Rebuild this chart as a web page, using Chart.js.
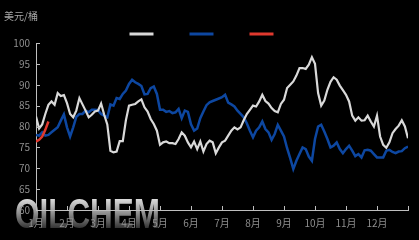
<!DOCTYPE html>
<html>
<head>
<meta charset="utf-8">
<script src="https://cdn.jsdelivr.net/npm/chart.js@4/dist/chart.umd.min.js"></script>
<style>
  html, body { margin: 0; padding: 0; background: #000; }
  #wrap { width: 419px; height: 240px; position: relative; }
</style>
</head>
<body>
<div id="wrap"><canvas id="oilChart"></canvas></div>
<script>
// units, axis labels
const unitLabel = '美元/桶';
const monthLabels = ['1月', '2月', '3月', '4月', '5月', '6月', '7月', '8月', '9月', '10月', '11月', '12月'];
const seriesNames = ['2023年', '2024年', '2025年'];
const yMin = 60, yMax = 100, yStep = 5;
const samplesPerMonth = 10; // one reading every tenth of a month

// Brent, USD/bbl
const brent2023 = [
  82.4, 79.5, 80.5, 83.0, 85.2, 86.0, 85.2, 88.0, 87.3, 87.5,
  85.6, 83.0, 82.2, 83.8, 86.8, 85.3, 83.8, 82.2, 82.8, 83.6,
  83.8, 85.5, 82.8, 80.5, 74.2, 73.8, 74.0, 76.5, 76.5, 81.5,
  85.0, 85.2, 85.4, 86.0, 86.5, 84.6, 83.6, 81.8, 80.6, 79.0,
  75.6, 76.2, 76.4, 76.0, 76.0, 75.8, 77.0, 78.6, 77.8, 76.2,
  75.0, 76.4, 74.6, 76.4, 74.0, 75.8, 76.6, 76.2, 73.6, 75.0,
  76.2, 76.6, 77.8, 79.0, 79.8, 79.3, 79.8, 81.5, 83.0, 84.0,
  85.0, 84.8, 86.0, 87.6, 86.1, 85.5, 84.4, 83.7, 83.4, 85.4,
  86.4, 89.2, 90.0, 90.8, 92.2, 94.0, 94.0, 93.8, 94.8, 96.6,
  95.0, 88.0, 85.0, 86.2, 88.8, 90.7, 91.8, 91.2, 89.8, 88.7,
  87.6, 86.0, 82.6, 81.4, 82.2, 81.4, 81.5, 82.6, 81.2, 80.0,
  82.6, 77.6, 75.6, 74.9, 76.2, 78.4, 79.4, 80.2, 81.5, 80.0,
  77.2
];
const brent2024 = [
  78.0, 77.8, 78.6, 77.8, 78.0, 78.6, 79.2, 79.8, 81.4, 82.9,
  79.8, 77.6, 79.8, 82.3, 83.0, 83.0, 83.8, 83.4, 84.0, 84.0,
  83.9, 83.0, 82.6, 82.2, 85.3, 85.0, 86.8, 86.6, 87.8, 88.6,
  90.2, 91.2, 90.6, 90.2, 89.7, 87.7, 87.8, 89.2, 89.6, 87.8,
  84.0, 84.0, 83.5, 83.7, 83.2, 83.4, 84.2, 82.0, 83.8, 83.5,
  80.5, 79.0, 79.5, 82.0, 83.6, 85.1, 85.8, 86.1, 86.4, 86.7,
  87.0, 87.6, 85.7, 85.3, 84.8, 83.8, 83.0, 82.2, 80.8, 79.0,
  77.4, 79.0, 79.8, 81.2, 79.4, 78.6, 76.8, 78.2, 80.4, 79.0,
  77.6, 74.8, 72.4, 69.8, 71.8, 73.4, 75.0, 74.6, 72.8, 71.8,
  77.0, 80.0, 80.4, 78.8, 77.0, 75.0, 75.4, 76.2, 74.6, 73.6,
  74.6, 75.4, 74.2, 72.9, 73.4, 72.6, 74.3, 74.4, 74.2, 73.4,
  72.6, 72.6, 72.6, 74.2, 74.4, 73.9, 73.6, 74.0, 74.1, 74.8,
  75.2
];
const brent2025 = [76.4, 76.8, 77.6, 79.2, 81.2];

const seriesColors = ['#d9d9d9', '#0d47a1', '#e0392e'];
const seriesWidths = [2.2, 2.5, 2.5];

function toPoints(values) {
  return values.map((v, i) => ({ x: i / samplesPerMonth, y: v }));
}

// small ticks that point into the plot, as in the reference
const innerTicks = {
  id: 'innerTicks',
  afterDraw(chart) {
    const { ctx, chartArea, scales: { x, y } } = chart;
    ctx.save();
    ctx.strokeStyle = '#bfbfbf';
    ctx.lineWidth = 1;
    ctx.beginPath();
    x.ticks.forEach(t => {
      const px = Math.round(x.getPixelForValue(t.value)) + 0.5;
      ctx.moveTo(px, chartArea.bottom);
      ctx.lineTo(px, chartArea.bottom - 4);
    });
    y.ticks.forEach(t => {
      const py = Math.round(y.getPixelForValue(t.value)) + 0.5;
      ctx.moveTo(chartArea.left, py);
      ctx.lineTo(chartArea.left + 4, py);
    });
    ctx.stroke();
    ctx.restore();
  }
};

// unit text at top-left and the OILCHEM watermark behind everything
const decorations = {
  id: 'decorations',
  beforeDraw(chart) {
    const { ctx } = chart;
    ctx.save();
    ctx.fillStyle = '#000';
    ctx.fillRect(0, 0, chart.width, chart.height);
    const g = ctx.createLinearGradient(0, 197, 0, 229);
    g.addColorStop(0, '#e6e6e6');
    g.addColorStop(0.45, '#9a9a9a');
    g.addColorStop(1, '#2e2e2e');
    ctx.fillStyle = g;
    ctx.font = 'bold 43px "Liberation Sans", Arial, sans-serif';
    ctx.textBaseline = 'alphabetic';
    ctx.textAlign = 'left';
    ctx.fillText('OILCHEM', 15, 228, 145);
    ctx.font = '10px "Noto Sans CJK SC", sans-serif';
    ctx.fillStyle = '#a6a6a6';
    ctx.textBaseline = 'middle';
    ctx.fillText(unitLabel, 4, 16);
    ctx.restore();
  }
};

new Chart(document.getElementById('oilChart'), {
  type: 'line',
  data: {
    datasets: [
      { label: seriesNames[0], data: toPoints(brent2023), order: 1 },
      { label: seriesNames[1], data: toPoints(brent2024), order: 2 },
      { label: seriesNames[2], data: toPoints(brent2025), order: 0 }
    ].map((d, i) => ({
      ...d,
      borderColor: seriesColors[i],
      backgroundColor: seriesColors[i],
      borderWidth: seriesWidths[i],
      pointRadius: 0,
      tension: 0
    }))
  },
  options: {
    responsive: true,
    maintainAspectRatio: false,
    animation: false,
    layout: {
      padding: { top: -2, right: 11, left: 0, bottom: 0 }
    },
    scales: {
      x: {
        type: 'linear',
        min: 0,
        max: monthLabels.length,
        afterFit: s => { s.height = 30; },
        border: { display: true, color: '#bfbfbf', width: 1 },
        grid: { display: false, drawTicks: false },
        ticks: {
          stepSize: 1,
          autoSkip: false,
          maxRotation: 0,
          padding: 7,
          color: '#8f8f8f',
          font: { family: '"Noto Sans CJK SC", sans-serif', size: 10 },
          callback: v => monthLabels[v] || ''
        }
      },
      y: {
        min: yMin,
        max: yMax,
        afterFit: s => { s.width = 36; },
        border: { display: true, color: '#bfbfbf', width: 1 },
        grid: { display: false, drawTicks: false },
        ticks: {
          stepSize: yStep,
          padding: 6,
          color: '#8f8f8f',
          font: { family: '"Noto Sans CJK SC", sans-serif', size: 10 }
        }
      }
    },
    plugins: {
      legend: {
        display: true,
        position: 'top',
        maxHeight: 45,
        labels: {
          boxWidth: 24,
          boxHeight: 3,
          padding: 31,
          font: { size: 10 },
          sort: (a, b) => a.datasetIndex - b.datasetIndex,
          // the reference shows only the coloured keys, no visible names
          generateLabels: chart => Chart.defaults.plugins.legend.labels.generateLabels(chart)
            .map(l => ({ ...l, text: '', lineWidth: 0 }))
        }
      },
      tooltip: { enabled: false }
    }
  },
  plugins: [decorations, innerTicks]
});
</script>
</body>
</html>
